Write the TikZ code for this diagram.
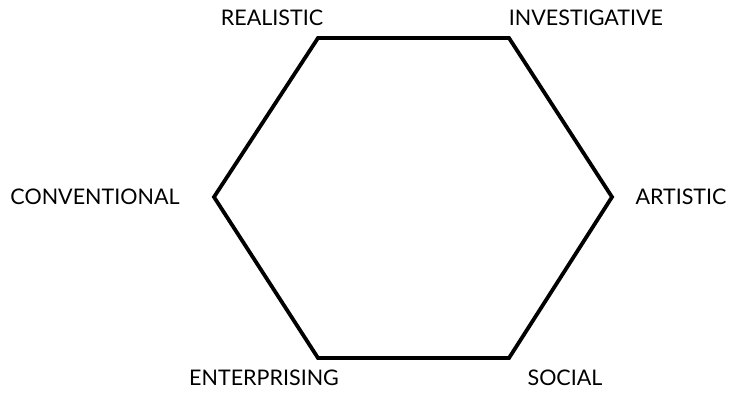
\documentclass[tikz,border=0pt]{standalone}
\usepackage{fontspec}
\setmainfont{Lato}
\begin{document}
\begin{tikzpicture}[x=1pt,y=-1pt,
  hexline/.style={line width=3.8pt,line join=miter},
  lbl/.style={font=\fontsize{21.5}{25}\selectfont,inner sep=0pt,anchor=center}]
\useasboundingbox (0,0) rectangle (731,392);
\coordinate (R) at (318,38);
\coordinate (I) at (509,38);
\coordinate (A) at (612,197);
\coordinate (S) at (509,358);
\coordinate (E) at (318,358);
\coordinate (C) at (214,197);
\draw[hexline] (R) -- (I) -- (A) -- (S) -- (E) -- (C) -- cycle;
\node[lbl] (lr) at (272,18) {REALISTIC};
\node[lbl] (li) at (586,18) {INVESTIGATIVE};
\node[lbl] (la) at (681,197) {ARTISTIC};
\node[lbl] (ls) at (565,378) {SOCIAL};
\node[lbl] (le) at (264,378) {ENTERPRISING};
\node[lbl] (lc) at (95,197) {CONVENTIONAL};
\end{tikzpicture}
\end{document}
